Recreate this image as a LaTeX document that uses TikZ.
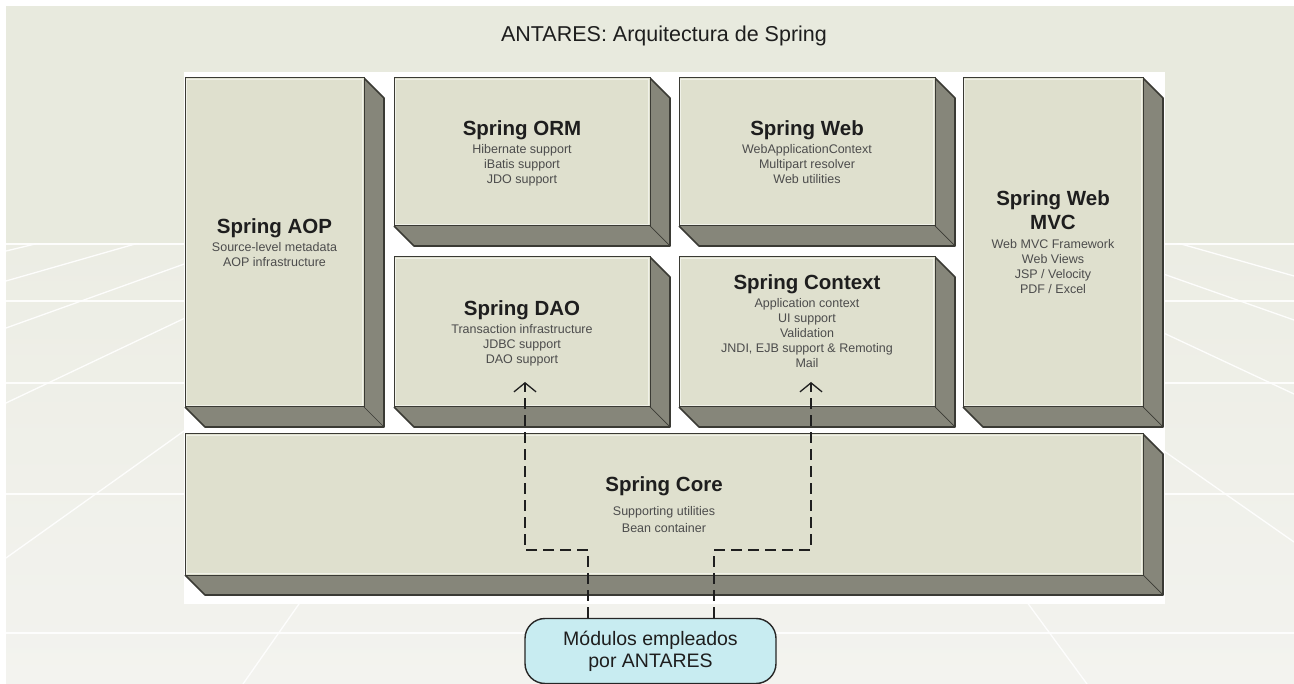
\documentclass[tikz,border=0pt]{standalone}
\usepackage{fontspec}
\setmainfont{Liberation Sans}
\usetikzlibrary{arrows.meta}

\definecolor{bgtop}{HTML}{E8EADE}
\definecolor{floortop}{HTML}{ECEDE4}
\definecolor{floorbot}{HTML}{F3F3EF}
\definecolor{frontcol}{HTML}{DFE0CE}
\definecolor{depthcol}{HTML}{86867A}
\definecolor{edgecol}{HTML}{3A3A34}
\definecolor{modfill}{HTML}{C8ECF1}
\definecolor{subtxt}{HTML}{4C4C4C}
\definecolor{titletxt}{HTML}{1E1E1E}

\tikzset{
  frontbox/.style={draw=edgecol, fill=frontcol, line width=1pt, inner sep=0pt, outer sep=0pt, anchor=center},
  boxtitle/.style={font=\bfseries\fontsize{20.5}{24}\selectfont, text=titletxt, inner sep=0pt, anchor=base},
  boxsub/.style={font=\fontsize{12.5}{15}\selectfont, text=subtxt, inner sep=0pt, anchor=base},
  floorline/.style={white, line width=1.3pt, opacity=.9},
  conn/.style={draw=black!88, line width=1.4pt, dash pattern=on 11pt off 6pt,
               -{Straight Barb[length=9pt,width=22pt,line width=1.3pt]}},
  modbox/.style={draw=black!85, fill=modfill, line width=1.4pt, rounded corners=20pt,
                 minimum width=251pt, minimum height=65pt, inner sep=0pt, align=center,
                 font=\fontsize{19.5}{22}\selectfont, text=titletxt}
}

\newcommand\blockbox[5]{%
  \fill[depthcol] ({#4},{#3}) -- ({#4+20},{#3+20}) -- ({#4+20},{#5+20}) -- ({#2+20},{#5+20}) -- ({#2},{#5}) -- cycle;
  \draw[edgecol, line width=1.6pt, line join=round] ({#4},{#3}) -- ({#4+20},{#3+20}) -- ({#4+20},{#5+20}) -- ({#2+20},{#5+20}) -- ({#2},{#5});
  \draw[edgecol, line width=0.7pt] ({#4},{#5}) -- ({#4+20},{#5+20});
  \node[frontbox, minimum width={(#4-#2)*1pt}, minimum height={(#5-#3)*1pt}] (#1) at ({(#2+#4)/2},{(#3+#5)/2}) {};
  \draw[white, opacity=.55, line width=.8pt] ([shift={(1.8,1.8)}]#1.north west) rectangle ([shift={(-1.8,-1.8)}]#1.south east);
}
\newcommand\sublines[4]{%
  \foreach \ln [count=\k] in {#4}{\node[boxsub] (#1-\k) at ({#2},{#3+15*(\k-1)}) {\ln};}%
}

\begin{document}
\begin{tikzpicture}[x=1pt,y=-1pt]
\useasboundingbox (0,0) rectangle (1294,684);
% background
\fill[white] (0,0) rectangle (1294,684);
\fill[bgtop] (6,6) rectangle (1294,244);
\shade[top color=floortop, bottom color=floorbot] (6,244) rectangle (1294,684);
\begin{scope}
  \clip (6,244) rectangle (1294,684);
  \foreach \yy in {244,301,383,494,633} \draw[floorline] (6,\yy) -- (1294,\yy);
  \coordinate (vp) at (655,95);
  \foreach \yy in {251,281,328,403,558} \draw[floorline] (vp) -- (6,\yy);
  \foreach \yy in {276,320,394,542} \draw[floorline] (vp) -- (1294,\yy);
  \draw[floorline] (vp) -- (243,684);
  \draw[floorline] (vp) -- (1087,684);
\end{scope}
% title
\node[font=\fontsize{21.5}{26}\selectfont, text=titletxt, inner sep=0pt, anchor=base] (title) at (664,42) {ANTARES: Arquitectura de Spring};
% white panel
\fill[white] (184,72) rectangle (1165,604);
% blocks
\blockbox{aop}{185}{78}{364}{407}
\blockbox{orm}{394}{78}{650}{226}
\blockbox{web}{679}{78}{935}{226}
\blockbox{mvc}{963}{78}{1143}{407}
\blockbox{dao}{394}{257}{650}{407}
\blockbox{ctx}{679}{257}{935}{407}
\blockbox{core}{185}{434}{1143}{575}
% texts
\node[boxtitle] (aopt) at (274.5,234) {Spring AOP};
\sublines{aops}{274.5}{251.5}{Source-level metadata,AOP infrastructure}
\node[boxtitle] (ormt) at (522,136) {Spring ORM};
\sublines{orms}{522}{153.5}{Hibernate support,iBatis support,JDO support}
\node[boxtitle] (webt) at (807,136) {Spring Web};
\sublines{webs}{807}{153.5}{WebApplicationContext,Multipart resolver,Web utilities}
\node[boxtitle] (mvct) at (1053,206) {Spring Web};
\node[boxtitle] (mvct2) at (1053,230) {MVC};
\sublines{mvcs}{1053}{248.5}{Web MVC Framework,Web Views,JSP / Velocity,PDF / Excel}
\node[boxtitle] (daot) at (522,316) {Spring DAO};
\sublines{daos}{522}{333.5}{Transaction infrastructure,JDBC support,DAO support}
\node[boxtitle] (ctxt) at (807,290) {Spring Context};
\sublines{ctxs}{807}{307.5}{Application context,UI support,Validation,{JNDI, EJB support \& Remoting},Mail}
\node[boxtitle] (coret) at (664,492) {Spring Core};
\node[boxsub] (cores-1) at (664,515.5) {Supporting utilities};
\node[boxsub] (cores-2) at (664,532.5) {Bean container};
% module box
\node[modbox] (mod) at (650.5,651) {Módulos empleados\\por ANTARES};
\coordinate (daotip) at (525,382);
\coordinate (ctxtip) at (811,382);
\draw[conn] ([xshift=-62.5pt]mod.north) -- ++(0,-68) -| (daotip);
\draw[conn] ([xshift=63.5pt]mod.north) -- ++(0,-68) -| (ctxtip);
\end{tikzpicture}
\end{document}
